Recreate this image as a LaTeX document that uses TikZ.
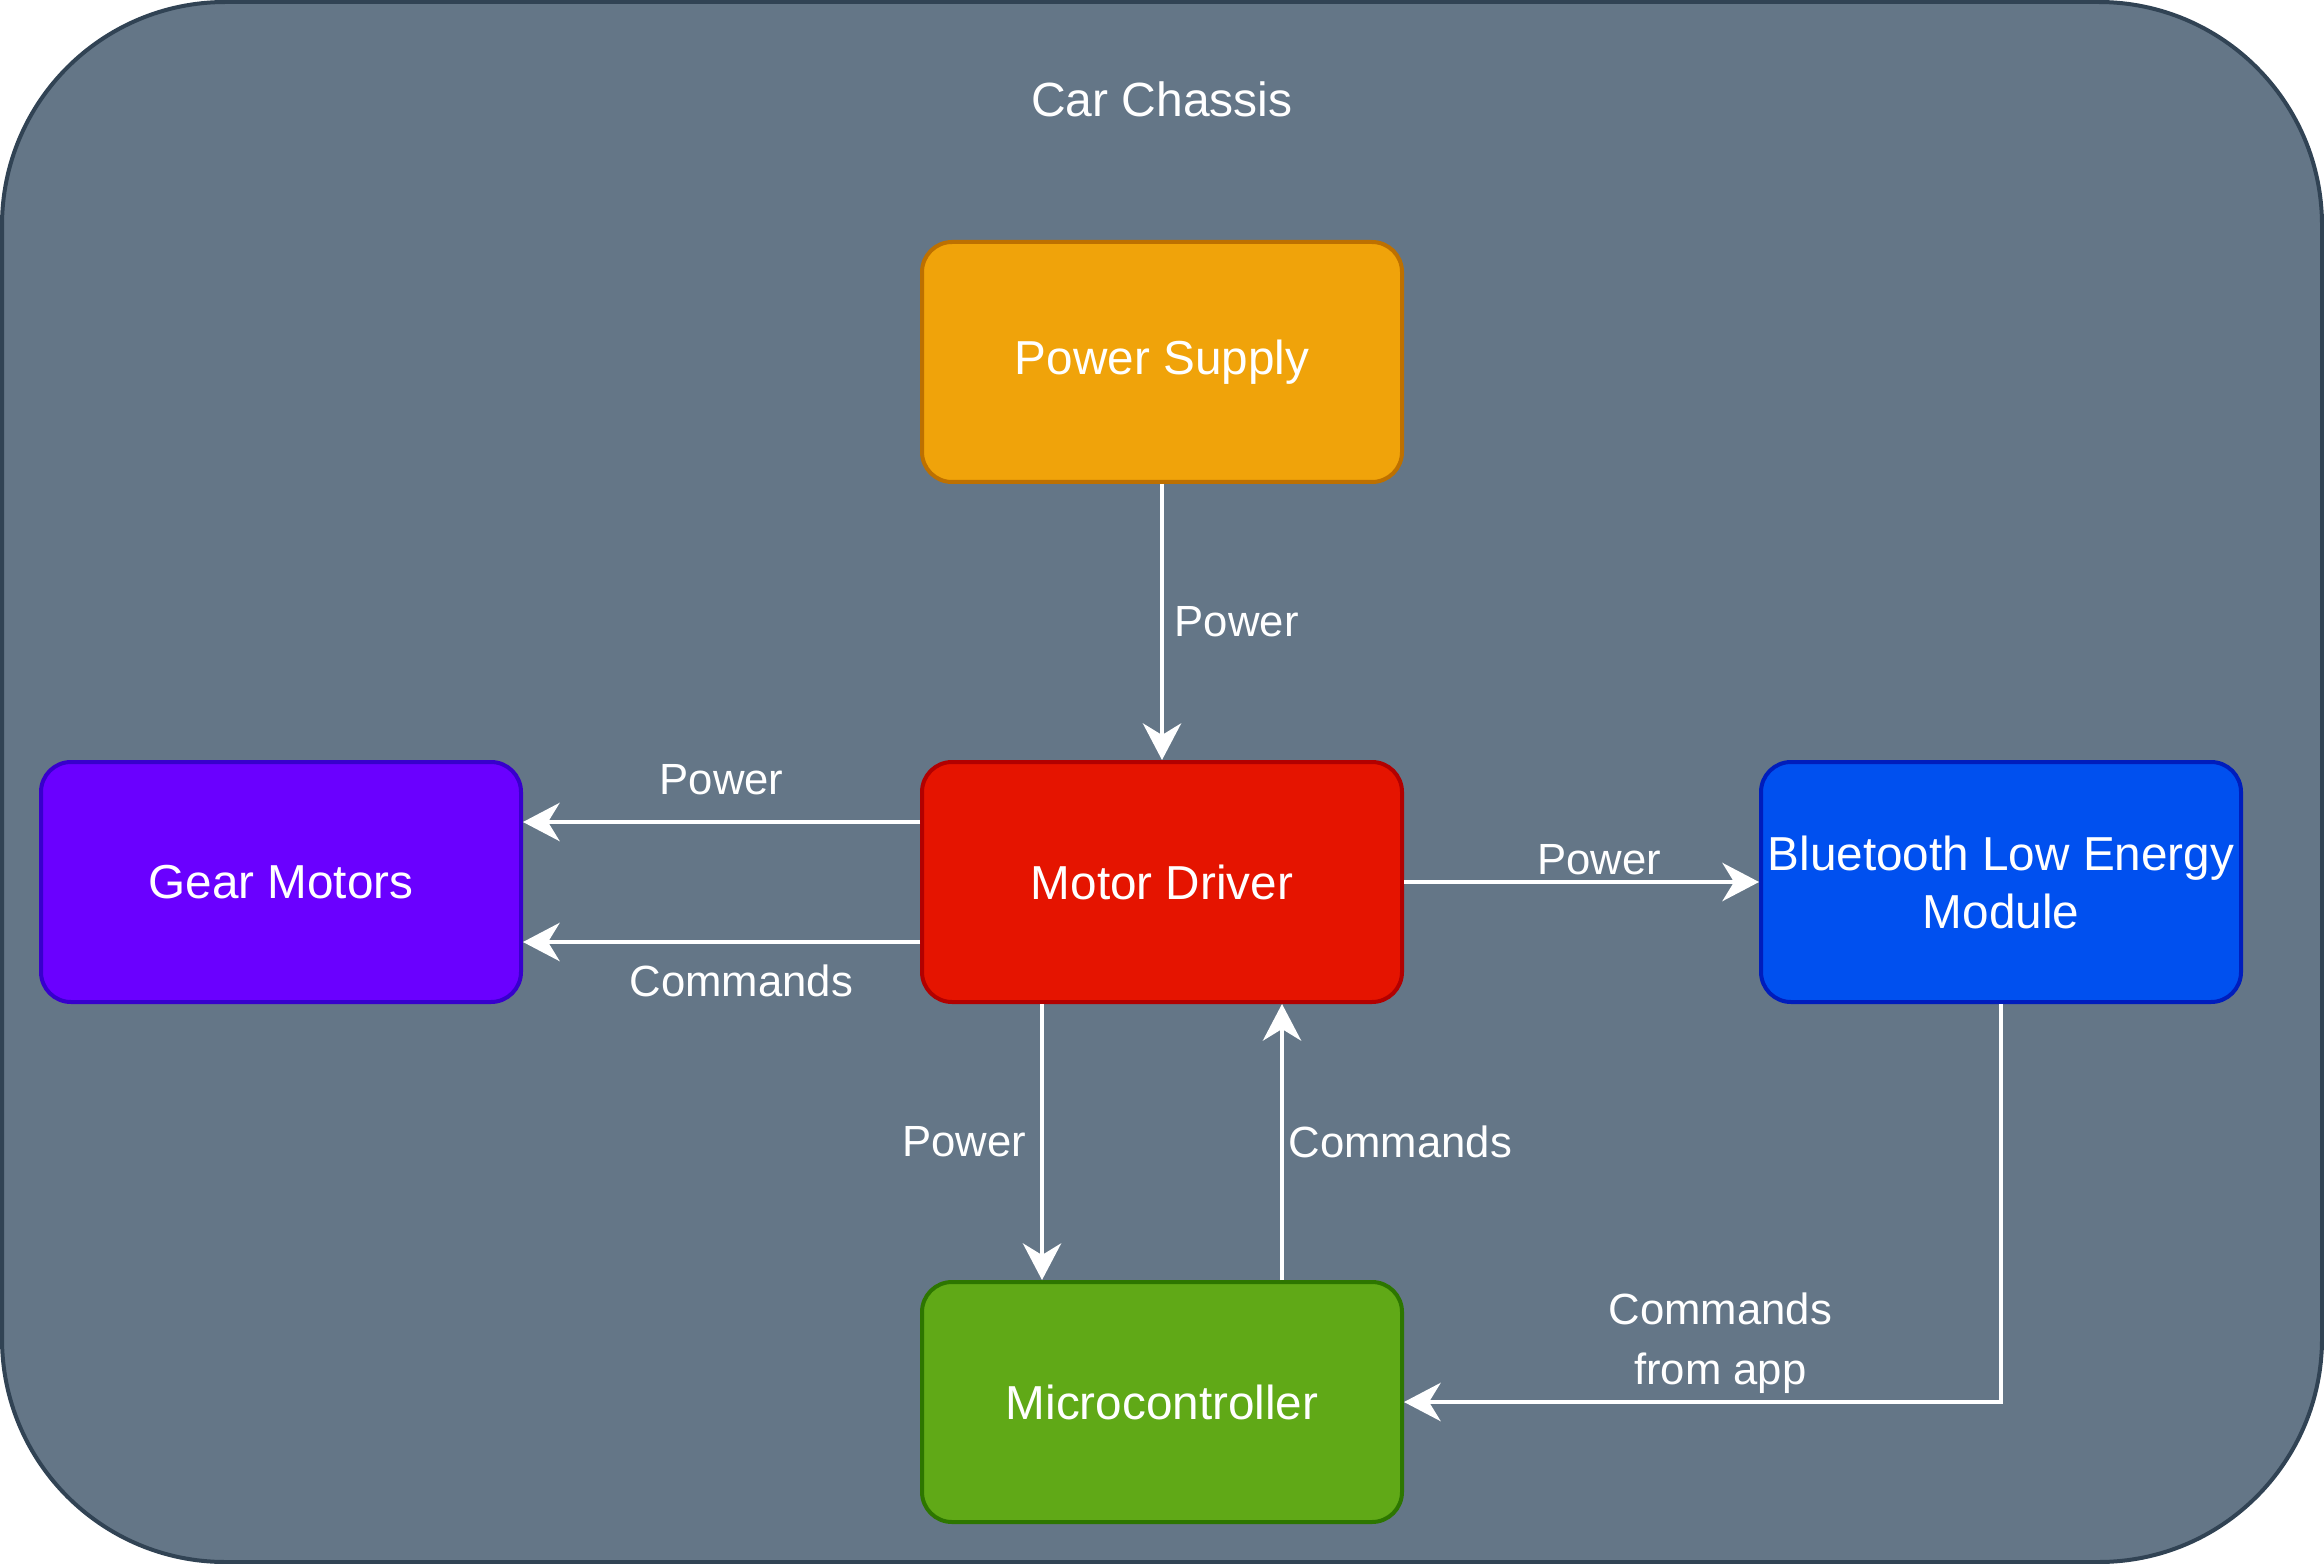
\documentclass[tikz,border=0pt]{standalone}
\usepackage{fontspec}
\setmainfont{Liberation Sans}
\usetikzlibrary{arrows.meta}

\definecolor{chassisfill}{HTML}{647687}
\definecolor{chassisline}{HTML}{314354}
\definecolor{psfill}{HTML}{F0A30A}
\definecolor{psline}{HTML}{BD7000}
\definecolor{mdfill}{HTML}{E51400}
\definecolor{mdline}{HTML}{B20000}
\definecolor{gmfill}{HTML}{6A00FF}
\definecolor{gmline}{HTML}{3700CC}
\definecolor{blefill}{HTML}{0050EF}
\definecolor{bleline}{HTML}{001DBC}
\definecolor{mcfill}{HTML}{60A917}
\definecolor{mcline}{HTML}{2D7600}

\begin{document}
\begin{tikzpicture}[x=0.3pt, y=-0.3pt,
  block/.style={draw, line width=1.2pt, rounded corners=9pt,
    minimum width=144pt, minimum height=72pt, inner sep=1pt,
    text=white, align=center, font=\fontsize{14.3}{17.4}\selectfont},
  link/.style={white, line width=1pt,
    -{Stealth[length=11pt, width=11.5pt, inset=3.5pt]}},
  lbl/.style={text=white, align=center, font=\fontsize{13.1}{18}\selectfont}]
  \useasboundingbox (0,0) rectangle (2324,1564);
  \draw[line width=1.2pt, draw=chassisline, fill=chassisfill, rounded corners=67pt]
    (2,2) rectangle (2322,1562);
  \node[text=white, font=\fontsize{14.4}{17}\selectfont] (title) at (1162,99) {Car Chassis};

  \node[block, fill=psfill, draw=psline] (ps) at (1162,362) {Power Supply};
  \node[block, fill=mdfill, draw=mdline] (md) at (1162,882) {Motor Driver};
  \node[block, fill=gmfill, draw=gmline] (gm) at (281,882) {Gear Motors};
  \node[block, fill=blefill, draw=bleline] (ble) at (2001,882) {Bluetooth Low Energy\\Module};
  \node[block, fill=mcfill, draw=mcline] (mc) at (1162,1402) {Microcontroller};

  \draw[link] (ps) -- node[lbl, right] {Power} (md);
  \draw[link] ([yshift=18pt]md.west) -- node[lbl, above, inner sep=7.5pt] {Power} ([yshift=18pt]gm.east);
  \draw[link] ([yshift=-18pt]md.west) -- node[lbl, below, pos=0.45, inner sep=6.5pt] {Commands} ([yshift=-18pt]gm.east);
  \draw[link] (md) -- node[lbl, above, pos=0.55, inner sep=1.5pt] {Power} (ble);
  \draw[link] ([xshift=-36pt]md.south) -- node[lbl, left, xshift=-1pt] {Power} ([xshift=-36pt]mc.north);
  \draw[link] ([xshift=36pt]mc.north) -- node[lbl, right, inner sep=1.5pt] {Commands} ([xshift=36pt]md.south);
  \draw[link] (ble) |- node[lbl, above, pos=0.735, inner sep=2pt] {Commands\\from app} (mc);
\end{tikzpicture}
\end{document}
